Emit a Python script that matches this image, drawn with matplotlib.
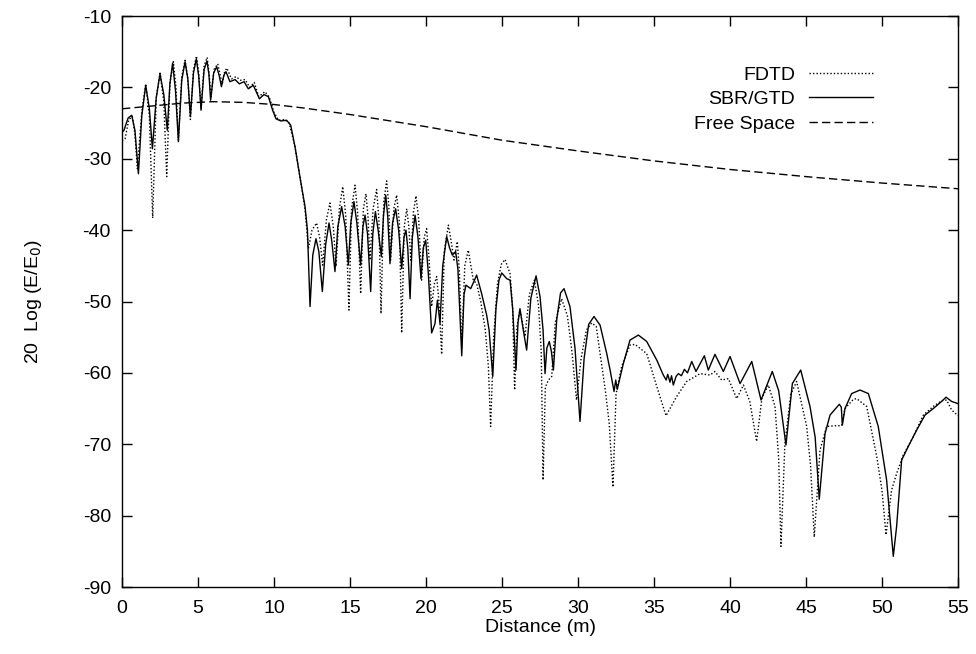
import numpy as np
import matplotlib
matplotlib.use("Agg")
import matplotlib.pyplot as plt

plt.rcParams['font.family'] = ['Liberation Sans', 'DejaVu Sans']
plt.rcParams['axes.unicode_minus'] = False

# SBR/GTD (solid)
sbr_x = [0.0, 0.13, 0.4, 0.64, 0.85, 1.08, 1.3, 1.56, 1.8, 2.0, 2.25, 2.5, 2.75, 2.98, 3.15, 3.33, 3.52, 3.71,
         3.93, 4.15, 4.33, 4.5, 4.7, 4.89, 5.05, 5.2, 5.4, 5.59, 5.72, 5.83, 6.03, 6.23, 6.4, 6.54, 6.7, 6.84,
         7.1, 7.44, 7.72, 8.03, 8.31, 8.64, 9.04, 9.34, 9.63, 9.91, 10.13, 10.44, 10.83, 11.1, 11.38, 11.71,
         12.04, 12.2, 12.37, 12.55, 12.76, 12.95, 13.18, 13.4, 13.62, 13.8, 14.01, 14.2, 14.45, 14.68, 14.89,
         15.05, 15.26, 15.45, 15.7, 15.85, 15.99, 16.15, 16.36, 16.5, 16.67, 16.85, 17.06, 17.2, 17.35, 17.48,
         17.63, 17.8, 18.0, 18.2, 18.4, 18.55, 18.68, 18.8, 18.95, 19.1, 19.28, 19.47, 19.67, 19.82, 19.98,
         20.15, 20.37, 20.59, 20.75, 20.92, 21.1, 21.36, 21.55, 21.73, 21.95, 22.1, 22.35, 22.5, 22.63, 22.94,
         23.33, 23.66, 23.99, 24.15, 24.39, 24.6, 24.8, 24.98, 25.31, 25.53, 25.7, 25.92, 26.05, 26.18, 26.4,
         26.62, 26.9, 27.24, 27.5, 27.7, 27.83, 27.95, 28.11, 28.25, 28.38, 28.6, 28.85, 29.08, 29.47, 29.8,
         30.13, 30.4, 30.7, 31.05, 31.45, 31.89, 32.1, 32.37, 32.48, 32.58, 32.98, 33.42, 33.97, 34.52, 35.18,
         35.61, 35.8, 35.9, 36.05, 36.15, 36.27, 36.45, 36.6, 36.8, 37.0, 37.2, 37.48, 37.76, 38.31, 38.57,
         39.01, 39.56, 40.0, 40.66, 41.43, 42.04, 42.78, 43.2, 43.68, 44.1, 44.65, 45.26, 45.6, 45.87, 46.25,
         46.58, 47.19, 47.32, 47.39, 47.56, 48.0, 48.55, 49.1, 49.75, 50.3, 50.74, 50.96, 51.29, 51.73, 52.28,
         52.83, 53.37, 53.92, 54.21, 54.58, 55.0]
sbr_y = [-26.3, -26.0, -24.3, -23.9, -26.0, -32.1, -24.0, -19.7, -23.0, -28.6, -21.5, -18.1, -21.0, -26.0, -19.5,
         -16.6, -20.5, -27.6, -19.0, -16.4, -18.8, -24.1, -18.0, -16.0, -18.5, -23.2, -17.5, -16.3, -18.2, -21.8,
         -18.0, -17.1, -18.4, -19.9, -18.3, -17.8, -19.2, -18.9, -19.5, -19.2, -20.2, -19.7, -21.6, -21.0, -21.3,
         -23.2, -24.4, -24.7, -24.6, -25.3, -28.3, -32.6, -36.7, -40.0, -50.7, -43.5, -41.2, -43.0, -48.6, -42.0,
         -39.0, -41.5, -45.8, -39.5, -36.7, -39.5, -44.9, -39.0, -36.0, -39.0, -44.9, -39.5, -37.9, -40.5, -48.6,
         -40.5, -37.4, -40.0, -43.7, -38.0, -35.1, -38.0, -44.7, -39.0, -37.0, -40.0, -45.4, -41.0, -40.0, -42.5,
         -49.6, -41.0, -37.9, -41.0, -46.8, -42.5, -41.4, -46.0, -54.4, -53.1, -49.8, -53.1, -45.0, -40.9, -42.5,
         -43.5, -43.0, -45.5, -57.6, -49.0, -47.7, -48.2, -46.3, -48.9, -51.9, -54.0, -60.5, -51.0, -47.0, -46.0,
         -46.8, -47.0, -51.0, -59.6, -53.0, -51.0, -54.0, -56.8, -49.5, -46.4, -49.3, -54.0, -60.1, -56.5, -55.6,
         -57.0, -59.6, -52.5, -48.8, -48.2, -50.7, -56.5, -66.8, -58.0, -53.2, -52.1, -53.3, -57.3, -59.5, -62.6,
         -61.0, -62.3, -58.7, -55.4, -54.7, -55.6, -58.2, -60.3, -61.0, -60.2, -61.3, -60.4, -61.7, -60.5, -60.1,
         -60.4, -59.5, -60.0, -58.4, -59.8, -57.6, -59.6, -57.4, -59.8, -57.7, -61.5, -58.4, -63.8, -59.8, -62.5,
         -70.1, -61.5, -59.6, -64.7, -69.0, -77.7, -68.5, -65.9, -64.4, -64.8, -67.3, -65.0, -62.9, -62.4, -62.9,
         -67.5, -75.0, -85.7, -81.5, -72.2, -70.3, -68.0, -65.9, -65.0, -64.0, -63.4, -64.0, -64.3]

# FDTD (dotted)
fdtd_x = [0.0, 0.2, 0.45, 0.68, 0.85, 1.01, 1.3, 1.56, 1.8, 2.02, 2.25, 2.5, 2.75, 2.94, 3.15, 3.38, 3.55, 3.71,
          3.93, 4.15, 4.33, 4.5, 4.7, 4.9, 5.05, 5.2, 5.4, 5.6, 5.73, 5.85, 6.05, 6.3, 6.45, 6.6, 6.75, 6.9,
          7.2, 7.5, 7.8, 8.1, 8.4, 8.7, 9.0, 9.4, 9.7, 10.0, 10.3, 10.7, 11.0, 11.38, 11.71, 12.04, 12.26, 12.5,
          12.8, 13.0, 13.2, 13.45, 13.68, 13.9, 14.08, 14.3, 14.52, 14.72, 14.93, 15.1, 15.33, 15.5, 15.7, 15.88,
          16.05, 16.18, 16.31, 16.52, 16.75, 16.9, 17.04, 17.22, 17.41, 17.55, 17.67, 17.88, 18.07, 18.25, 18.4,
          18.57, 18.73, 18.87, 19.0, 19.17, 19.34, 19.52, 19.71, 19.88, 20.04, 20.2, 20.37, 20.55, 20.7, 20.85,
          21.03, 21.2, 21.47, 21.65, 21.84, 22.06, 22.2, 22.35, 22.55, 22.78, 23.11, 23.33, 23.6, 23.9, 24.1,
          24.25, 24.45, 24.7, 24.95, 25.2, 25.53, 25.7, 25.83, 25.98, 26.18, 26.51, 26.8, 27.13, 27.4, 27.58,
          27.7, 27.85, 28.05, 28.27, 28.5, 28.92, 29.3, 29.6, 29.9, 30.2, 30.55, 30.9, 31.2, 31.45, 31.8, 32.05,
          32.3, 32.5, 32.87, 33.42, 33.75, 34.52, 35.18, 35.79, 36.49, 37.15, 38.03, 38.68, 39.01, 39.45, 39.89,
          40.44, 40.88, 41.3, 41.75, 42.1, 42.52, 42.96, 43.2, 43.35, 43.61, 44.0, 44.38, 45.04, 45.3, 45.54,
          45.92, 46.36, 46.9, 47.34, 47.56, 48.11, 48.33, 48.99, 49.65, 50.0, 50.26, 50.63, 50.96, 51.4, 52.06,
          52.72, 53.37, 53.92, 54.25, 54.58, 55.0]
fdtd_y = [-27.5, -27.2, -24.5, -24.1, -26.5, -31.4, -23.5, -19.5, -24.0, -38.3, -21.5, -18.0, -22.0, -32.5, -19.5,
          -16.4, -20.0, -27.4, -18.5, -16.2, -18.8, -24.5, -17.5, -15.6, -18.0, -23.0, -17.0, -15.8, -18.0, -21.5,
          -17.5, -16.7, -18.2, -19.5, -17.8, -17.3, -18.8, -18.5, -19.0, -18.9, -20.0, -19.3, -21.3, -20.6, -21.4,
          -23.5, -24.6, -24.5, -25.0, -28.3, -32.6, -37.0, -42.6, -40.0, -39.0, -41.0, -44.9, -38.5, -36.2, -39.5,
          -45.1, -37.0, -33.9, -38.0, -51.2, -37.0, -33.7, -37.5, -48.9, -37.0, -34.9, -38.0, -44.2, -37.0, -34.3,
          -38.5, -51.7, -36.0, -33.1, -36.5, -44.2, -37.0, -35.1, -39.0, -54.4, -39.5, -37.0, -39.5, -44.2, -37.5,
          -35.2, -38.5, -47.0, -41.0, -39.8, -44.0, -50.7, -47.5, -46.5, -50.0, -57.4, -43.0, -39.3, -41.5, -44.2,
          -41.6, -46.0, -56.5, -45.0, -42.8, -47.0, -47.5, -50.0, -54.0, -59.0, -67.5, -55.0, -47.5, -44.8, -44.1,
          -46.1, -51.0, -62.4, -53.5, -51.2, -54.9, -49.0, -47.0, -50.5, -57.0, -75.0, -62.0, -61.0, -60.5, -53.0,
          -49.6, -52.0, -57.0, -63.8, -58.0, -54.0, -53.0, -53.5, -57.3, -62.5, -67.0, -76.0, -63.0, -59.1, -56.1,
          -56.0, -57.3, -61.9, -66.0, -63.3, -61.2, -60.1, -60.3, -59.8, -61.0, -60.8, -63.6, -61.7, -64.0, -69.6,
          -63.5, -61.7, -64.7, -72.0, -84.3, -69.9, -63.0, -61.2, -67.5, -73.0, -83.0, -70.8, -67.5, -67.4, -67.4,
          -65.0, -63.7, -63.6, -64.7, -71.7, -76.5, -82.7, -76.4, -74.1, -71.5, -68.9, -65.9, -64.7, -63.9, -63.8,
          -65.2, -66.0]

# Free Space (dashed)
free_x = [0, 2, 4, 6, 8, 10, 12, 15, 20, 25, 30, 35, 40, 45, 50, 55]
free_y = [-23.0, -22.6, -22.2, -22.0, -22.1, -22.4, -22.9, -23.8, -25.5, -27.4, -28.9, -30.3, -31.5, -32.5, -33.4, -34.2]

fig = plt.figure(figsize=(9.76, 6.54), dpi=100)
ax = fig.add_axes([0.125, 0.1024, 0.8566, 0.8731])

ax.plot(fdtd_x, fdtd_y, color='black', lw=1.0, linestyle=(0, (1, 1.5)), label='FDTD')
ax.plot(sbr_x, sbr_y, color='black', lw=1.0, linestyle='-', label='SBR/GTD')
ax.plot(free_x, free_y, color='black', lw=1.0, linestyle=(0, (6, 3)), label='Free Space')

ax.set_xlim(0, 55)
ax.set_ylim(-90, -10)
ax.set_xticks(np.arange(0, 56, 5))
ax.set_yticks(np.arange(-90, -9, 10))
ax.tick_params(direction='in', length=7, width=1, top=True, right=True, labelsize=14)
ax.tick_params(axis='x', pad=9)
ax.tick_params(axis='y', pad=8)
for s in ax.spines.values():
    s.set_linewidth(1)

ax.set_xlabel('Distance (m)', fontsize=14, labelpad=2)
ax.set_ylabel('20  Log (E/E$_0$)', fontsize=14, labelpad=28)

leg = ax.legend(loc='upper right', bbox_to_anchor=(0.898, 0.912), frameon=False, fontsize=14,
                markerfirst=False, handlelength=3.3, handletextpad=0.7, labelspacing=0.35,
                borderpad=0, borderaxespad=0)
for t in leg.get_texts():
    t.set_ha('right')

fig.savefig('out.png', dpi=100)
